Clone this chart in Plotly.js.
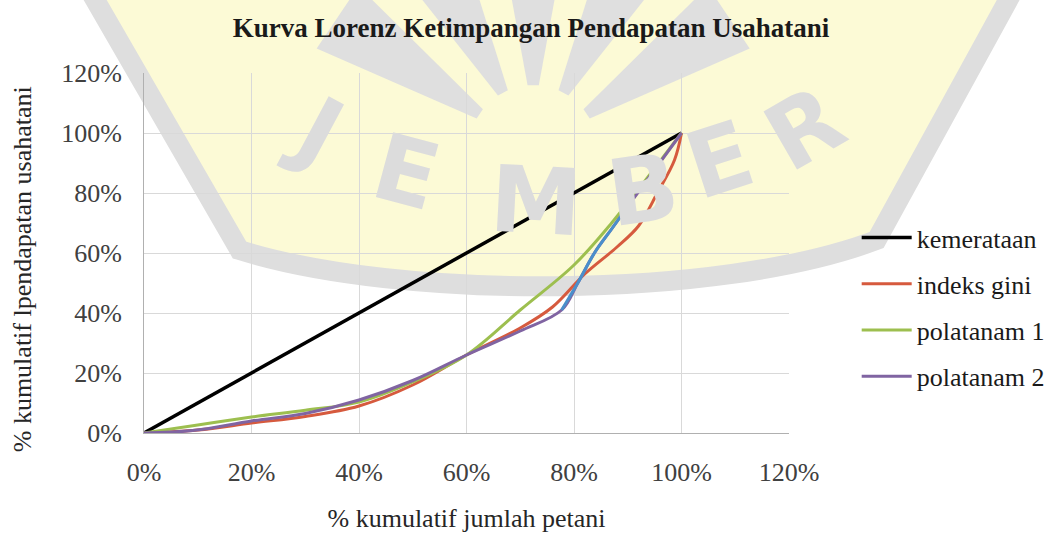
<!DOCTYPE html>
<html>
<head>
<meta charset="utf-8">
<script src="https://cdn.plot.ly/plotly-3.0.1.min.js"></script>
<style>html,body{margin:0;padding:0;background:#fff;}#chart{width:1062px;height:538px;}</style>
</head>
<body>
<div id="chart"></div>
<script>
// ---- data (percent) ----
const seriesNames = ["kemerataan", "indeks gini", "polatanam 1", "polatanam 2"];

const kemerataanX = [0, 100];
const kemerataanY = [0, 100];

const giniX = [0, 10, 20, 30, 40, 50, 60, 70, 76, 82, 88, 92, 95.5, 98.7, 100];
const giniY = [0, 1, 3.3, 5.5, 9, 16, 26, 35, 42, 53, 62, 69, 80, 91, 100];

const pola1X = [0, 10, 20, 30, 40, 50, 60, 70, 80, 87, 100];
const pola1Y = [0, 2.7, 5.3, 7.6, 10.3, 17, 26, 41, 56, 70, 100];

const pola2X = [0, 9, 20, 30, 40, 50, 60, 70, 77.7, 80.7, 83.8, 87, 89.4, 100];
const pola2Y = [0, 0.8, 4, 6.5, 11, 17.5, 26, 34, 41, 50, 60, 68, 74, 100];

const pola2bX = [77.7, 80.7, 83.8, 87, 89.4];
const pola2bY = [41, 50, 60, 68, 74];

const tickVals = [0, 20, 40, 60, 80, 100, 120];
const tickText = ["0%", "20%", "40%", "60%", "80%", "100%", "120%"];

// ---- geometry helpers for watermark (pixel -> paper) ----
const L = 144, R = 792, T = 73, B = 433;
const px = x => (x - L) / (R - L);
const py = y => (B - y) / (B - T);
const P = (x, y) => px(x).toFixed(4) + "," + py(y).toFixed(4);

const yellowPath = "M" + P(95, 0) + " L" + P(1010, 0) + " L" + P(875, 235) +
  " C" + P(720, 290) + " " + P(400, 290) + " " + P(245, 245) + " Z";
const grayPath = "M" + P(92, -5) + " L" + P(240, 250) +
  " C" + P(400, 300) + " " + P(720, 300) + " " + P(880, 240) + " L" + P(1015, -5);

// fan of rays at top of the watermark logo
const rayAngles = [-56, -28, 0, 28, 56];
const rayShapes = rayAngles.map(a => {
  const cx = 535, cy = 150, r1 = 65, r2 = 240, hw = 9;
  const pt = (ang, r) => {
    const t = ang * Math.PI / 180;
    return P(cx + r * Math.sin(t), cy - r * Math.cos(t));
  };
  const path = "M" + pt(a - hw * 0.55, r1) + " L" + pt(a - hw, r2) + " L" + pt(a + hw, r2) + " L" + pt(a + hw * 0.55, r1) + " Z";
  return {type: "path", xref: "paper", yref: "paper", path: path, fillcolor: "#dfdfdf", line: {width: 0}, layer: "below"};
});

const FONT = "Liberation Serif, Times New Roman, serif";

const data = [
  {type: "scatter", mode: "lines", x: kemerataanX, y: kemerataanY, name: seriesNames[0], legendgroup: "a",
    line: {color: "#000000", width: 3.5, shape: "linear"}},
  {type: "scatter", mode: "lines", x: giniX, y: giniY, name: seriesNames[1], legendgroup: "b",
    line: {color: "#d65a3e", width: 3, shape: "spline", smoothing: 1}},
  {type: "scatter", mode: "lines", x: pola1X, y: pola1Y, name: seriesNames[2], legendgroup: "c",
    line: {color: "#9dbf4f", width: 3, shape: "spline", smoothing: 1}},
  {type: "scatter", mode: "lines", x: pola2X, y: pola2Y, name: seriesNames[3], legendgroup: "d",
    line: {color: "#8064a2", width: 3, shape: "spline", smoothing: 1}},
  {type: "scatter", mode: "lines", x: pola2bX, y: pola2bY, name: "", showlegend: false, hoverinfo: "skip",
    line: {color: "#4a8fcb", width: 3, shape: "spline", smoothing: 1}}
];

const letters = [
  {t: "J", x: 318, y: 130, a: 28},
  {t: "E", x: 408, y: 172, a: 15},
  {t: "M", x: 538, y: 202, a: 3},
  {t: "B", x: 645, y: 190, a: -8},
  {t: "E", x: 722, y: 160, a: -18},
  {t: "R", x: 808, y: 128, a: -30}
];

const layout = {
  width: 1062, height: 538,
  margin: {l: L, r: 1062 - R, t: T, b: 538 - B, pad: 0},
  paper_bgcolor: "#ffffff",
  plot_bgcolor: "rgba(0,0,0,0)",
  font: {family: FONT, color: "#404040", size: 26},
  title: {text: "<b>Kurva Lorenz Ketimpangan Pendapatan Usahatani</b>",
    font: {family: FONT, size: 27, color: "#1a1a1a"},
    x: 0.5, xref: "container", y: 1 - 28 / 538, yref: "container", yanchor: "middle"},
  xaxis: {range: [0, 120], tickmode: "array", tickvals: tickVals, ticktext: tickText,
    showgrid: true, gridcolor: "#d9d9d9", gridwidth: 1,
    zeroline: false, showline: true, linecolor: "#b0b0b0", linewidth: 1, ticks: "",
    ticklabelstandoff: 16, tickfont: {family: FONT, size: 26, color: "#404040"},
    title: {text: "% kumulatif jumlah petani", font: {family: FONT, size: 26, color: "#262626"}, standoff: 22},
    fixedrange: true},
  yaxis: {range: [0, 120], tickmode: "array", tickvals: tickVals, ticktext: tickText,
    showgrid: true, gridcolor: "#d9d9d9", gridwidth: 1,
    zeroline: false, showline: true, linecolor: "#b0b0b0", linewidth: 1, ticks: "",
    ticklabelstandoff: 16, tickfont: {family: FONT, size: 26, color: "#404040"},
    title: {text: "% kumulatif lpendapatan usahatani&nbsp;&nbsp;&nbsp;&nbsp;&nbsp;", font: {family: FONT, size: 26, color: "#262626"}, standoff: 22},
    fixedrange: true},
  legend: {x: px(860), y: py(214), xanchor: "left", yanchor: "top", bgcolor: "rgba(0,0,0,0)",
    font: {family: FONT, size: 26, color: "#1a1a1a"}, traceorder: "grouped", tracegroupgap: 9.5, itemwidth: 50},
  showlegend: true,
  shapes: [
    {type: "path", xref: "paper", yref: "paper", path: yellowPath, fillcolor: "#fcfad6", line: {width: 0}, layer: "below"}
  ].concat(rayShapes).concat([
    {type: "path", xref: "paper", yref: "paper", path: grayPath, fillcolor: "rgba(0,0,0,0)", line: {color: "#dedede", width: 20}, layer: "below"}
  ]),
  annotations: letters.map(o => ({
    text: "<b>" + o.t + "</b>", xref: "paper", yref: "paper", x: px(o.x), y: py(o.y),
    showarrow: false, textangle: o.a, font: {family: "DejaVu Sans, sans-serif", size: 92, color: "#dcdcdc"},
    xanchor: "center", yanchor: "middle", captureevents: false
  }))
};

Plotly.newPlot("chart", data, layout, {staticPlot: true, displayModeBar: false});
</script>
</body>
</html>
